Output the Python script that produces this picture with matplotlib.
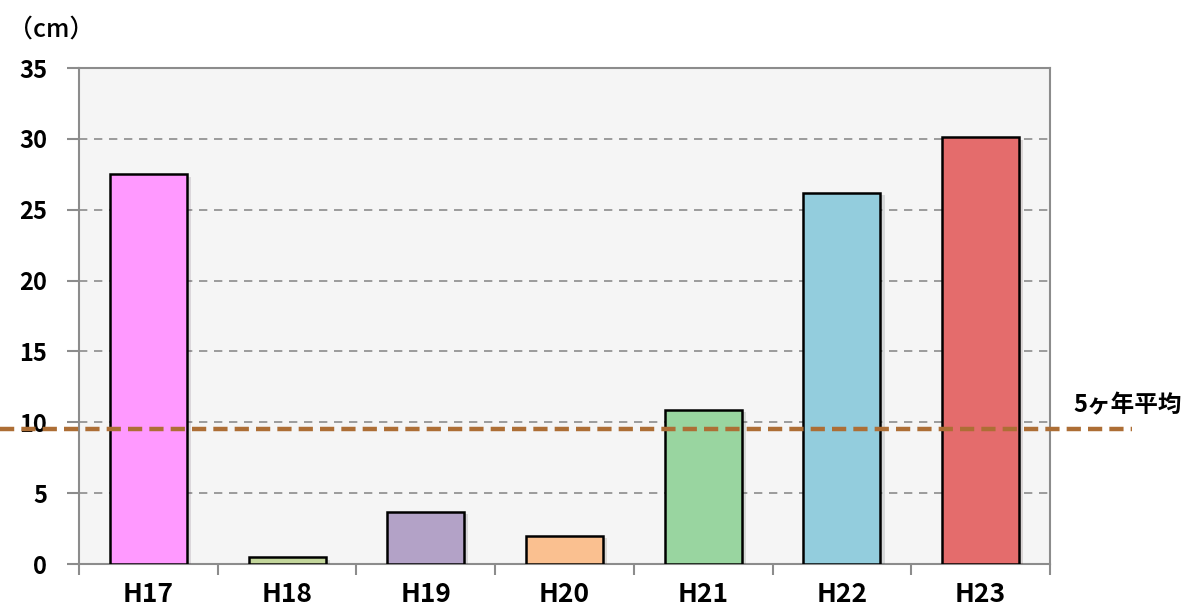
import matplotlib
matplotlib.use("Agg")
import matplotlib.pyplot as plt
import matplotlib.patheffects as pe

plt.rcParams['font.family'] = ['Noto Sans CJK JP', 'DejaVu Sans']

categories = ["H17", "H18", "H19", "H20", "H21", "H22", "H23"]
values = [27.5, 0.5, 3.7, 2.0, 10.9, 26.2, 30.1]
colors = ["#FF99FF", "#C3D69B", "#B3A2C7", "#FAC090", "#99D5A0", "#93CDDD", "#E46C6C"]
average = 9.5
avg_label = "5ヶ年平均"
unit_label = "（cm）"
yticks = [0, 5, 10, 15, 20, 25, 30, 35]

fig = plt.figure(figsize=(11.9, 6.08), dpi=100)
ax = fig.add_axes([79/1190, 1 - 564/608, (1050-79)/1190, (564-68)/608])
ax.set_facecolor("#F5F5F5")

x = list(range(len(categories)))
bars = ax.bar(x, values, width=0.555, color=colors, edgecolor="black", linewidth=1.8, zorder=3,
              path_effects=[pe.SimplePatchShadow(offset=(3, -2), alpha=0.15), pe.Normal()])

ax.set_xlim(-0.5, len(categories) - 0.5)
ax.set_ylim(0, 35)
ax.set_yticks(yticks)
ax.yaxis.grid(True, linestyle=(0, (5, 4)), color="#8C8C8C", linewidth=1.2, zorder=1)

for s in ax.spines.values():
    s.set_color("#8C8C8C")
    s.set_linewidth(1.5)

ax.set_xticks(x)
ax.set_xticklabels(categories, fontsize=19, fontweight="bold")
ax.set_xticks([i + 0.5 for i in range(-1, len(categories))], minor=True)
ax.tick_params(axis="x", which="major", length=0, pad=12)
ax.tick_params(axis="x", which="minor", length=8, width=1.5, color="#8C8C8C")
ax.tick_params(axis="y", length=9, width=1.5, color="#8C8C8C", labelsize=17, pad=14)
for lbl in ax.get_yticklabels():
    lbl.set_fontweight("bold")

# average line extending outside the axes
line = ax.axhline(average, xmin=-79/971, xmax=(1132-79)/971, color="#AD6E35",
                  linestyle=(0, (3.2, 1.6)), linewidth=3.2, zorder=5, clip_on=False)

fig.text(1073/1190, 1 - 405/608, avg_label, fontsize=17, fontweight="bold",
         ha="left", va="center")
fig.text(8/1190, 1 - 30/608, unit_label, fontsize=18, fontweight="medium", ha="left", va="center")

fig.savefig("out.png", dpi=100)
